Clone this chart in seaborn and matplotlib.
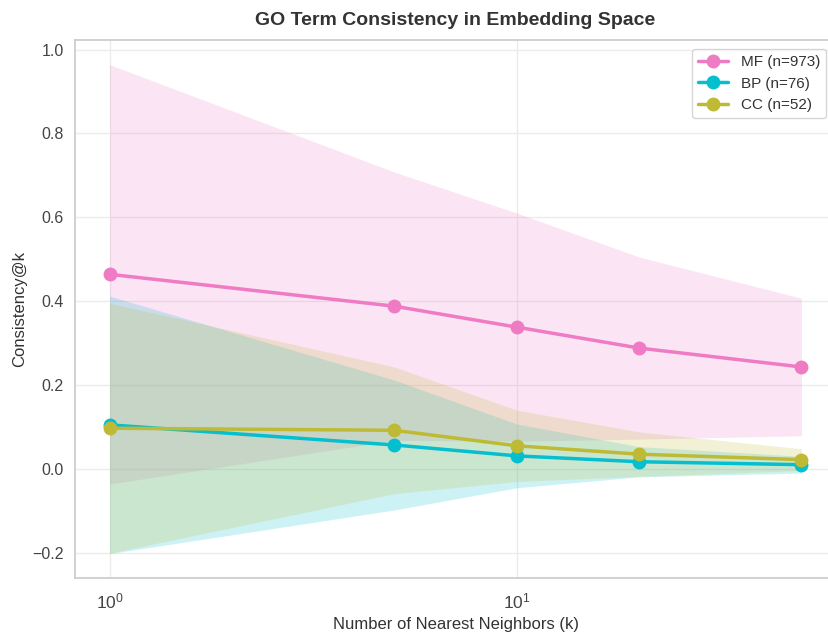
import numpy as np
import pandas as pd
import matplotlib
matplotlib.use("Agg")
import matplotlib.pyplot as plt
import seaborn as sns

# Neighbourhood sizes evaluated
k_values = [1, 5, 10, 20, 50]

# Mean consistency@k and its standard deviation per GO ontology
mf_mean = [0.464, 0.388, 0.338, 0.288, 0.243]
mf_std = [0.500, 0.320, 0.272, 0.217, 0.164]

bp_mean = [0.105, 0.057, 0.031, 0.017, 0.010]
bp_std = [0.307, 0.155, 0.076, 0.036, 0.020]

cc_mean = [0.097, 0.092, 0.055, 0.035, 0.022]
cc_std = [0.298, 0.151, 0.085, 0.053, 0.026]

labels = ["MF (n=973)", "BP (n=76)", "CC (n=52)"]
colors = ["#ef7bc4", "#05bfcf", "#bfba35"]

means = [mf_mean, bp_mean, cc_mean]
stds = [mf_std, bp_std, cc_std]

frames = []
for lab, m, s in zip(labels, means, stds):
    frames.append(pd.DataFrame({"k": k_values, "mean": m, "std": s, "ontology": lab}))
df = pd.concat(frames, ignore_index=True)

sns.set_theme(style="whitegrid")
plt.rcParams["font.family"] = ["Liberation Sans", "DejaVu Sans"]

fig = plt.figure(figsize=(8.29, 6.32), dpi=100)
ax = fig.add_axes([0.0905, 0.0854, 0.918, 0.851])

palette = dict(zip(labels, colors))

# Shaded band: mean ± one standard deviation
for lab in labels:
    sub = df[df["ontology"] == lab]
    ax.fill_between(sub["k"], sub["mean"] - sub["std"], sub["mean"] + sub["std"],
                    color=palette[lab], alpha=0.2, linewidth=0)

sns.lineplot(data=df, x="k", y="mean", hue="ontology", hue_order=labels,
             palette=palette, marker="o", markersize=10, markeredgewidth=0,
             linewidth=2.5, ax=ax)

ax.set_xscale("log")
ax.set_title("GO Term Consistency in Embedding Space", fontsize=14,
             fontweight="bold", color="#333333", pad=11)
ax.set_xlabel("Number of Nearest Neighbors (k)", fontsize=12, color="#333333")
ax.set_ylabel("Consistency@k", fontsize=12, color="#333333")
ax.tick_params(axis="both", labelsize=11.5, colors="#444444")
ax.tick_params(axis="x", labelsize=12.5)
ax.tick_params(axis="y", pad=2)
ax.grid(True, which="major", color="#ebebeb", linewidth=1)
ax.grid(False, which="minor")

leg = ax.legend(loc="upper right", fontsize=11, frameon=True,
                bbox_to_anchor=(0.997, 0.998))
leg.set_title(None)
for text in leg.get_texts():
    text.set_color("#333333")

fig.savefig("out.png", dpi=100)
